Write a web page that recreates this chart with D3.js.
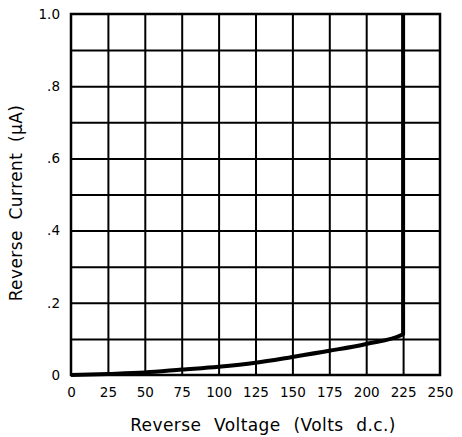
<!DOCTYPE html>
<meta charset="utf-8">
<style>
body { margin: 0; background: #fff; }
svg { font-family: "DejaVu Sans", sans-serif; }
.grid .domain { display: none; }
.grid line { stroke: #000; stroke-width: 2; }
.ticks .domain, .ticks line { display: none; }
</style>
<svg width="462" height="437"></svg>
<script src="https://cdn.jsdelivr.net/npm/d3@7"></script>
<script>

// reverse voltage (V d.c.) and leakage current (uA)
var voltage = [0, 25, 50, 75, 100, 125, 150, 175, 200, 225];
var current = [0, 0.003, 0.007, 0.015, 0.023, 0.034, 0.05, 0.067, 0.086, 0.113];
// breakdown: current shoots up at 225 V
var breakdownVoltage = 225;
var breakdownTop = 1.0;

var xTicks = [0, 25, 50, 75, 100, 125, 150, 175, 200, 225, 250];
var yTicks = [0, 0.2, 0.4, 0.6, 0.8, 1.0];
var yTickLabels = ["0", ".2", ".4", ".6", ".8", "1.0"];
var yGrid = [0.1, 0.2, 0.3, 0.4, 0.5, 0.6, 0.7, 0.8, 0.9];

var svg = d3.select("svg"),
    margin = {top: 14, right: 22, bottom: 62, left: 71},
    width = +svg.attr("width") - margin.left - margin.right,
    height = +svg.attr("height") - margin.top - margin.bottom,
    g = svg.append("g").attr("transform", "translate(" + margin.left + "," + margin.top + ")");

var x = d3.scaleLinear().domain([0, 250]).range([0, width]);
var y = d3.scaleLinear().domain([0, 1]).range([height, 0]);

// grid lines
g.append("g")
    .attr("class", "grid")
    .call(d3.axisBottom(x).tickValues(xTicks.slice(1, -1)).tickSize(height).tickFormat(""));

g.append("g")
    .attr("class", "grid")
    .call(d3.axisLeft(y).tickValues(yGrid).tickSize(-width).tickFormat(""));

// frame
g.append("rect")
    .attr("width", width)
    .attr("height", height)
    .attr("fill", "none")
    .attr("stroke", "#000")
    .attr("stroke-width", 2.5);

// tick labels
g.append("g")
    .attr("class", "ticks")
    .attr("transform", "translate(0," + height + ")")
    .call(d3.axisBottom(x).tickValues(xTicks).tickSize(0).tickPadding(12))
    .attr("font-size", 13.5)
    .attr("font-family", null)
    .selectAll("text").attr("fill", "#000");

g.append("g")
    .attr("class", "ticks")
    .call(d3.axisLeft(y).tickValues(yTicks).tickSize(0).tickPadding(11)
      .tickFormat(function(d, i) { return yTickLabels[i]; }))
    .attr("font-size", 13.5)
    .attr("font-family", null)
    .selectAll("text").attr("fill", "#000");

// curve
var pts = voltage.map(function(v, i) { return [v, current[i]]; });
pts.push([breakdownVoltage, breakdownTop]);

g.append("path")
    .datum(pts)
    .attr("fill", "none")
    .attr("stroke", "#000")
    .attr("stroke-width", 4)
    .attr("stroke-linejoin", "round")
    .attr("d", d3.line()
      .x(function(d) { return x(d[0]); })
      .y(function(d) { return y(d[1]); })
      .curve(d3.curveMonotoneX));

// axis titles
svg.append("text")
    .attr("x", 263)
    .attr("y", 431)
    .attr("text-anchor", "middle")
    .attr("font-size", 17)
    .attr("letter-spacing", 0.4)
    .attr("word-spacing", 7)
    .text("Reverse Voltage (Volts d.c.)");

svg.append("text")
    .attr("transform", "translate(22,203) rotate(-90)")
    .attr("text-anchor", "middle")
    .attr("font-size", 17)
    .attr("letter-spacing", 0.4)
    .attr("word-spacing", 5)
    .text("Reverse Current (\u03bcA)");

</script>
